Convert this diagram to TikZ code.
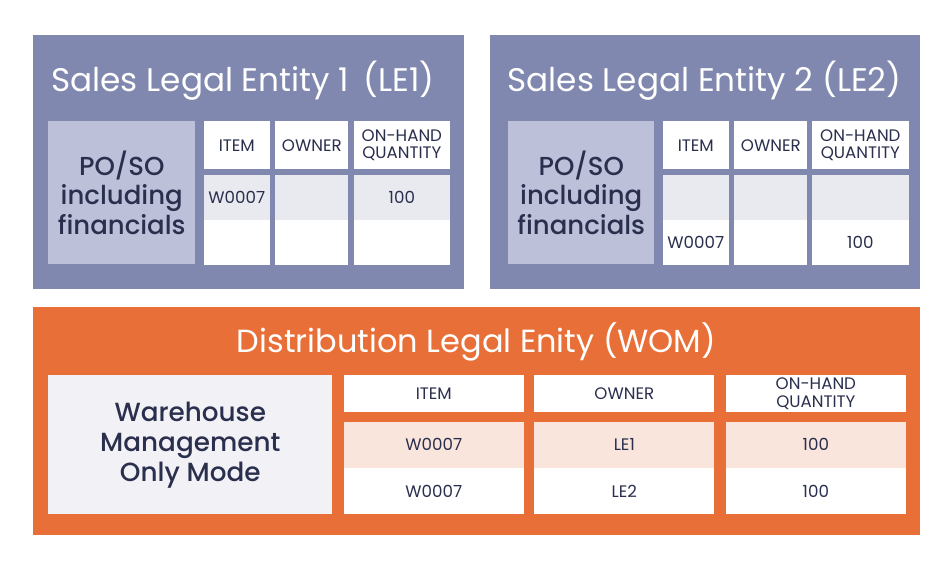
\documentclass[tikz,border=0pt]{standalone}
\usepackage{fontspec}
\setmainfont{Poppins}
\newfontfamily\medfont{Poppins Medium}
\usetikzlibrary{positioning}
\definecolor{slate}{RGB}{128,136,176}
\definecolor{slatelight}{RGB}{188,192,216}
\definecolor{slaterow}{RGB}{233,234,240}
\definecolor{womorange}{RGB}{232,112,56}
\definecolor{womlight}{RGB}{241,241,246}
\definecolor{womrow}{RGB}{250,229,220}
\definecolor{ink}{RGB}{42,47,78}
\tikzset{%
  entity/.style = {rectangle,fill=#1,inner sep=0pt,anchor=north west},
  sz/.style 2 args = {minimum width=#1,minimum height=#2},
  title/.style = {anchor=base,text=white,inner sep=0pt},
  sidebox/.style = {rectangle,fill=#1,inner sep=0pt,anchor=north west,
        text=ink,align=center},
  cell/.style = {rectangle,fill=#1,inner sep=0pt,text=ink,align=center,
        font=\fontsize{12.5}{13}\selectfont}
}

\begin{document}
\begin{tikzpicture}[x=0.75pt,y=-0.75pt]
   \useasboundingbox[fill=white] (0,0) rectangle (943,566);

   % sales legal entity 1
   \node[entity=slate,sz={323.25pt}{190.5pt}] (le1) at (33,35) {};
   \node[title,font=\fontsize{24.5}{28}\selectfont] (le1-title) at (243,92)
        {Sales Legal Entity 1\hspace{0.45em}(LE1)};
   \node[sidebox=slatelight,sz={110.25pt}{107.25pt},
        font=\medfont\fontsize{19.5}{22}\selectfont] (po1) at (48,121)
        {PO/SO\\including\\financials};
   \node[cell=white,sz={49.5pt}{36pt}] (item1) [right=6pt of po1.north east,anchor=north west] {ITEM};
   \node[cell=white,sz={54.75pt}{36pt}] (owner1) [right=3.75pt of item1] {OWNER};
   \node[cell=white,sz={72pt}{36pt}] (qty1) [right=3.75pt of owner1] {ON-HAND\\QUANTITY};
   \node[cell=slaterow,sz={49.5pt}{33.75pt}] (item1a) [below=3.75pt of item1] {W0007};
   \node[cell=slaterow,sz={54.75pt}{33.75pt}] (owner1a) [below=3.75pt of owner1] {};
   \node[cell=slaterow,sz={72pt}{33.75pt}] (qty1a) [below=3.75pt of qty1] {100};
   \node[cell=white,sz={49.5pt}{33.75pt}] (item1b) [below=0pt of item1a] {};
   \node[cell=white,sz={54.75pt}{33.75pt}] (owner1b) [below=0pt of owner1a] {};
   \node[cell=white,sz={72pt}{33.75pt}] (qty1b) [below=0pt of qty1a] {};

   % sales legal entity 2
   \node[entity=slate,sz={322.5pt}{190.5pt}] (le2) at (490,35) {};
   \node[title,font=\fontsize{24.5}{28}\selectfont] (le2-title) at (704.5,92)
        {Sales Legal Entity 2 (LE2)};
   \node[sidebox=slatelight,sz={109.5pt}{107.25pt},
        font=\medfont\fontsize{19.5}{22}\selectfont] (po2) at (508,121)
        {PO/SO\\including\\financials};
   \node[cell=white,sz={49.5pt}{36pt}] (item2) [right=6pt of po2.north east,anchor=north west] {ITEM};
   \node[cell=white,sz={54.75pt}{36pt}] (owner2) [right=3.75pt of item2] {OWNER};
   \node[cell=white,sz={72.75pt}{36pt}] (qty2) [right=3pt of owner2] {ON-HAND\\QUANTITY};
   \node[cell=slaterow,sz={49.5pt}{33.75pt}] (item2a) [below=3.75pt of item2] {};
   \node[cell=slaterow,sz={54.75pt}{33.75pt}] (owner2a) [below=3.75pt of owner2] {};
   \node[cell=slaterow,sz={72.75pt}{33.75pt}] (qty2a) [below=3.75pt of qty2] {};
   \node[cell=white,sz={49.5pt}{33.75pt}] (item2b) [below=0pt of item2a] {W0007};
   \node[cell=white,sz={54.75pt}{33.75pt}] (owner2b) [below=0pt of owner2a] {};
   \node[cell=white,sz={72.75pt}{33.75pt}] (qty2b) [below=0pt of qty2a] {100};

   % distribution legal entity
   \node[entity=womorange,sz={665.25pt}{171pt}] (wom) at (33,307) {};
   \node[title,font=\fontsize{24}{28}\selectfont] (wom-title) at (476.5,353)
        {Distribution Legal Enity (WOM)};
   \node[sidebox=womlight,sz={213pt}{104.25pt},
        font=\medfont\fontsize{19.7}{22.5}\selectfont] (whm) at (48,375)
        {Warehouse\\Management\\Only Mode};
   \node[cell=white,sz={135pt}{27.75pt}] (item3) [right=8.25pt of whm.north east,anchor=north west] {ITEM};
   \node[cell=white,sz={135pt}{27.75pt}] (owner3) [right=7.5pt of item3] {OWNER};
   \node[cell=white,sz={135pt}{27.75pt}] (qty3) [right=8.25pt of owner3] {ON-HAND\\QUANTITY};
   \node[cell=womrow,sz={135pt}{34.5pt}] (item3a) [below=6.75pt of item3] {W0007};
   \node[cell=womrow,sz={135pt}{34.5pt}] (owner3a) [below=6.75pt of owner3] {LE1};
   \node[cell=womrow,sz={135pt}{34.5pt}] (qty3a) [below=6.75pt of qty3] {100};
   \node[cell=white,sz={135pt}{34.5pt}] (item3b) [below=0pt of item3a] {W0007};
   \node[cell=white,sz={135pt}{34.5pt}] (owner3b) [below=0pt of owner3a] {LE2};
   \node[cell=white,sz={135pt}{34.5pt}] (qty3b) [below=0pt of qty3a] {100};
\end{tikzpicture}
\end{document}
